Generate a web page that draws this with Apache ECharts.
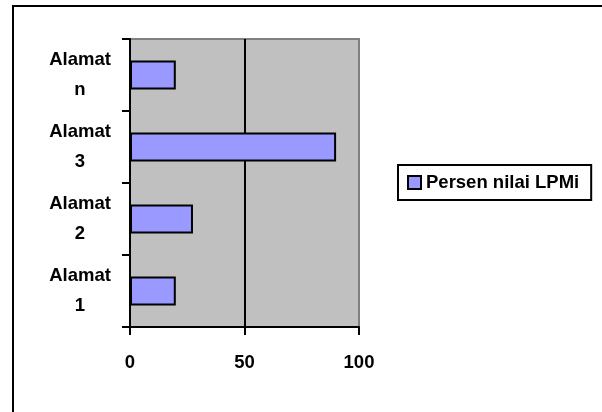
<!DOCTYPE html>
<html>
<head>
<meta charset="utf-8">
<script src="https://cdn.jsdelivr.net/npm/echarts@6/dist/echarts.min.js"></script>
<style>
  html, body { margin: 0; padding: 0; background: #fff; }
  #chart { width: 602px; height: 412px; }
</style>
</head>
<body>
<div id="chart"></div>
<script>
// Address categories, bottom to top
const categories = ['Alamat 1', 'Alamat 2', 'Alamat 3', 'Alamat n'];
// Persen nilai LPMi per address
const values = [20, 27.5, 90, 20];
const seriesName = 'Persen nilai LPMi';
const xMin = 0, xMax = 100, xStep = 50;

const FONT = '"Liberation Sans", Arial, sans-serif';
const FS = 18.5;
const chart = echarts.init(document.getElementById('chart'), null, { renderer: 'canvas' });

chart.setOption({
  animation: false,
  backgroundColor: '#ffffff',
  textStyle: { fontFamily: FONT, fontWeight: 'bold', color: '#000' },
  graphic: [
    // chart frame: top and left edges
    { type: 'line', shape: { x1: 12, y1: 6, x2: 602, y2: 6 }, style: { stroke: '#000', lineWidth: 2 }, z: 100 },
    { type: 'line', shape: { x1: 13, y1: 5, x2: 13, y2: 412 }, style: { stroke: '#000', lineWidth: 2 }, z: 100 }
  ],
  grid: {
    left: 130, right: 243, top: 39, bottom: 85,
    containLabel: false,
    show: true,
    backgroundColor: '#c0c0c0',
    borderColor: '#808080',
    borderWidth: 2
  },
  legend: {
    data: [seriesName],
    left: 398, top: 165,
    orient: 'vertical',
    padding: [8, 12, 8, 9],
    borderColor: '#000',
    borderWidth: 2,
    backgroundColor: '#fff',
    icon: 'rect',
    itemWidth: 13, itemHeight: 13,
    itemStyle: { color: '#9999ff', borderColor: '#000', borderWidth: 2 },
    textStyle: { fontFamily: FONT, fontWeight: 'bold', fontSize: FS, color: '#000', padding: [2, 0, 0, 0] }
  },
  xAxis: {
    type: 'value',
    min: xMin, max: xMax, interval: xStep,
    axisLine: { show: true, lineStyle: { color: '#000', width: 2 } },
    axisTick: { show: true, length: 8, lineStyle: { color: '#000', width: 2 } },
    axisLabel: { fontFamily: FONT, fontWeight: 'bold', fontSize: FS, color: '#000', margin: 26 },
    splitLine: { show: true, showMinLine: false, showMaxLine: false, lineStyle: { color: '#000', width: 2 } }
  },
  yAxis: {
    type: 'category',
    data: categories,
    axisLine: { show: true, lineStyle: { color: '#000', width: 2 } },
    axisTick: { show: true, length: 8, lineStyle: { color: '#000', width: 2 } },
    axisLabel: {
      fontFamily: FONT, fontWeight: 'bold', fontSize: FS, color: '#000',
      align: 'center', margin: 50, lineHeight: 30,
      padding: [4, 0, 0, 0],
      formatter: v => v.replace(' ', '\n')
    },
    splitLine: { show: false }
  },
  series: [{
    name: seriesName,
    type: 'bar',
    data: values,
    barCategoryGap: '60%',
    itemStyle: { color: '#9999ff', borderColor: '#000', borderWidth: 2 }
  }]
});
</script>
</body>
</html>
